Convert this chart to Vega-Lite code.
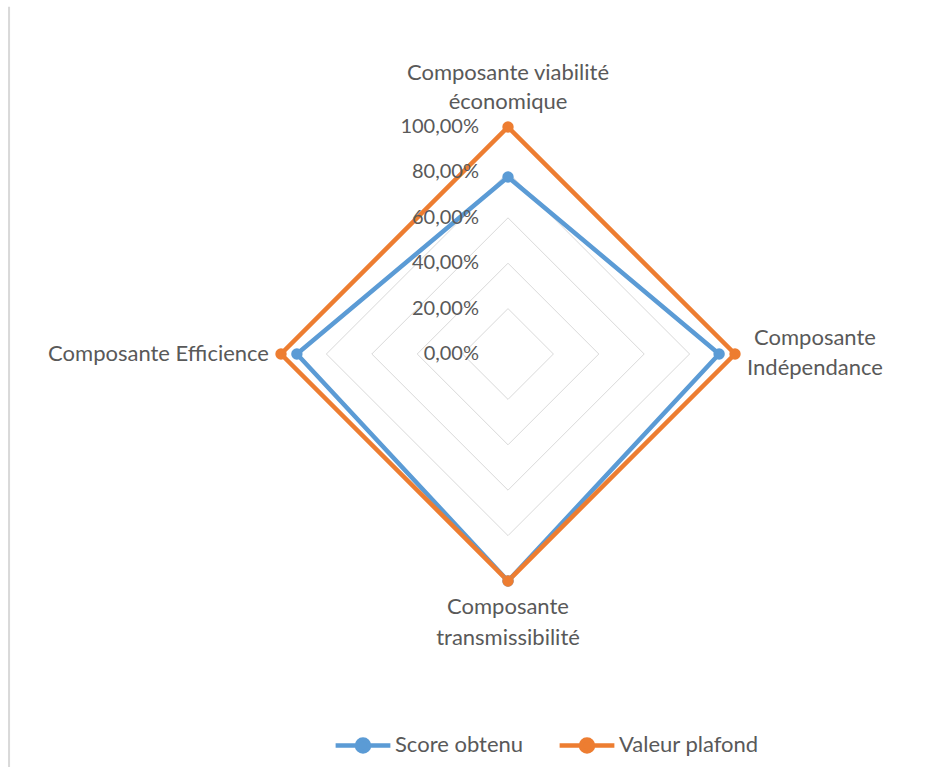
{
  "$schema": "https://vega.github.io/schema/vega-lite/v6.json",
  "width": 454,
  "height": 454,
  "autosize": {"type": "none"},
  "padding": {"left": 281, "top": 127, "right": 192, "bottom": 186},
  "background": "white",
  "datasets": {
    "series": [
      {"component": "Composante viabilité économique", "order": 0, "series": "Score obtenu", "value": 0.78},
      {"component": "Composante Indépendance", "order": 1, "series": "Score obtenu", "value": 0.93},
      {"component": "Composante transmissibilité", "order": 2, "series": "Score obtenu", "value": 1.0},
      {"component": "Composante Efficience", "order": 3, "series": "Score obtenu", "value": 0.93},
      {"component": "Composante viabilité économique", "order": 0, "series": "Valeur plafond", "value": 1.0},
      {"component": "Composante Indépendance", "order": 1, "series": "Valeur plafond", "value": 1.0},
      {"component": "Composante transmissibilité", "order": 2, "series": "Valeur plafond", "value": 1.0},
      {"component": "Composante Efficience", "order": 3, "series": "Valeur plafond", "value": 1.0}
    ],
    "grid": [
      {"level": 0.2, "order": 0}, {"level": 0.2, "order": 1}, {"level": 0.2, "order": 2}, {"level": 0.2, "order": 3},
      {"level": 0.4, "order": 0}, {"level": 0.4, "order": 1}, {"level": 0.4, "order": 2}, {"level": 0.4, "order": 3},
      {"level": 0.6, "order": 0}, {"level": 0.6, "order": 1}, {"level": 0.6, "order": 2}, {"level": 0.6, "order": 3},
      {"level": 0.8, "order": 0}, {"level": 0.8, "order": 1}, {"level": 0.8, "order": 2}, {"level": 0.8, "order": 3},
      {"level": 1.0, "order": 0}, {"level": 1.0, "order": 1}, {"level": 1.0, "order": 2}, {"level": 1.0, "order": 3}
    ],
    "ticks": [
      {"level": 0.0, "label": "0,00%"},
      {"level": 0.2, "label": "20,00%"},
      {"level": 0.4, "label": "40,00%"},
      {"level": 0.6, "label": "60,00%"},
      {"level": 0.8, "label": "80,00%"},
      {"level": 1.0, "label": "100,00%"}
    ],
    "components": [
      {"order": 0, "label": "Composante viabilité\néconomique", "value": 1},
      {"order": 1, "label": "Composante\nIndépendance", "value": 1},
      {"order": 2, "label": "Composante\ntransmissibilité", "value": 1},
      {"order": 3, "label": "Composante Efficience", "value": 1}
    ]
  },
  "layer": [
    {
      "data": {"values": [{"edge": "left"}]},
      "mark": {"type": "rule", "color": "#d9d9d9", "strokeWidth": 2},
      "encoding": {
        "x": {"datum": -2.198, "type": "quantitative", "scale": {"domain": [-1, 1], "nice": false, "zero": false}, "axis": null},
        "y": {"datum": 1.53, "type": "quantitative", "scale": {"domain": [-1, 1], "nice": false, "zero": false}, "axis": null},
        "y2": {"datum": -1.85}
      }
    },
    {
      "data": {"name": "grid"},
      "transform": [
        {"calculate": "datum.level * sin(datum.order * PI / 2)", "as": "x"},
        {"calculate": "datum.level * cos(datum.order * PI / 2)", "as": "y"}
      ],
      "mark": {"type": "line", "interpolate": "linear-closed", "color": "#d9d9d9", "strokeWidth": 1},
      "encoding": {
        "x": {"field": "x", "type": "quantitative", "scale": {"domain": [-1, 1], "nice": false, "zero": false}, "axis": null},
        "y": {"field": "y", "type": "quantitative", "scale": {"domain": [-1, 1], "nice": false, "zero": false}, "axis": null},
        "detail": {"field": "level", "type": "nominal"},
        "order": {"field": "order", "type": "quantitative"}
      }
    },
    {
      "data": {"name": "series"},
      "transform": [
        {"calculate": "datum.value * sin(datum.order * PI / 2)", "as": "x"},
        {"calculate": "datum.value * cos(datum.order * PI / 2)", "as": "y"}
      ],
      "mark": {"type": "line", "interpolate": "linear-closed", "strokeWidth": 4.5},
      "encoding": {
        "x": {"field": "x", "type": "quantitative", "scale": {"domain": [-1, 1], "nice": false, "zero": false}, "axis": null},
        "y": {"field": "y", "type": "quantitative", "scale": {"domain": [-1, 1], "nice": false, "zero": false}, "axis": null},
        "color": {
          "field": "series", "type": "nominal",
          "scale": {"domain": ["Score obtenu", "Valeur plafond"], "range": ["#5B9BD5", "#ED7D31"]},
          "legend": {
            "orient": "none", "legendX": 52, "legendY": 588, "direction": "horizontal", "title": null,
            "symbolType": "M-1,0L-0.22,0M0.22,0A0.22,0.22,0,1,1,-0.22,0A0.22,0.22,0,1,1,0.22,0M0.22,0L1,0",
            "symbolSize": 3000, "symbolStrokeWidth": 4.5,
            "labelFontSize": 22, "labelColor": "#595959", "labelFont": "Lato", "labelOffset": 2, "columnPadding": 26,
            "encode": {"symbols": {"update": {"fill": {"scale": "color", "field": "value"}, "stroke": {"scale": "color", "field": "value"}, "opacity": {"value": 1}}}}
          }
        },
        "order": {"field": "order", "type": "quantitative"}
      }
    },
    {
      "data": {"name": "series"},
      "transform": [
        {"calculate": "datum.value * sin(datum.order * PI / 2)", "as": "x"},
        {"calculate": "datum.value * cos(datum.order * PI / 2)", "as": "y"}
      ],
      "mark": {"type": "point", "filled": true, "opacity": 1, "size": 130},
      "encoding": {
        "x": {"field": "x", "type": "quantitative", "scale": {"domain": [-1, 1], "nice": false, "zero": false}, "axis": null},
        "y": {"field": "y", "type": "quantitative", "scale": {"domain": [-1, 1], "nice": false, "zero": false}, "axis": null},
        "color": {"field": "series", "type": "nominal", "scale": {"domain": ["Score obtenu", "Valeur plafond"], "range": ["#5B9BD5", "#ED7D31"]}}
      }
    },
    {
      "data": {"name": "ticks"},
      "mark": {"type": "text", "align": "right", "baseline": "middle", "dx": -29, "fontSize": 20, "font": "Lato", "color": "#595959"},
      "encoding": {
        "x": {"datum": 0, "type": "quantitative", "scale": {"domain": [-1, 1], "nice": false, "zero": false}, "axis": null},
        "y": {"field": "level", "type": "quantitative", "scale": {"domain": [-1, 1], "nice": false, "zero": false}, "axis": null},
        "text": {"field": "label", "type": "nominal"}
      }
    },
    {
      "data": {"name": "components"},
      "transform": [
        {"filter": "datum.order == 0"},
        {"calculate": "datum.value * sin(datum.order * PI / 2)", "as": "x"},
        {"calculate": "datum.value * cos(datum.order * PI / 2)", "as": "y"}
      ],
      "mark": {"type": "text", "align": "center", "baseline": "middle", "dy": -54, "lineBreak": "\n", "lineHeight": 29, "fontSize": 22, "font": "Lato", "color": "#595959"},
      "encoding": {
        "x": {"field": "x", "type": "quantitative", "scale": {"domain": [-1, 1], "nice": false, "zero": false}, "axis": null},
        "y": {"field": "y", "type": "quantitative", "scale": {"domain": [-1, 1], "nice": false, "zero": false}, "axis": null},
        "text": {"field": "label", "type": "nominal"}
      }
    },
    {
      "data": {"name": "components"},
      "transform": [
        {"filter": "datum.order == 1"},
        {"calculate": "datum.value * sin(datum.order * PI / 2)", "as": "x"},
        {"calculate": "datum.value * cos(datum.order * PI / 2)", "as": "y"}
      ],
      "mark": {"type": "text", "align": "center", "baseline": "middle", "dx": 80, "dy": -16, "lineBreak": "\n", "lineHeight": 30, "fontSize": 22, "font": "Lato", "color": "#595959"},
      "encoding": {
        "x": {"field": "x", "type": "quantitative", "scale": {"domain": [-1, 1], "nice": false, "zero": false}, "axis": null},
        "y": {"field": "y", "type": "quantitative", "scale": {"domain": [-1, 1], "nice": false, "zero": false}, "axis": null},
        "text": {"field": "label", "type": "nominal"}
      }
    },
    {
      "data": {"name": "components"},
      "transform": [
        {"filter": "datum.order == 2"},
        {"calculate": "datum.value * sin(datum.order * PI / 2)", "as": "x"},
        {"calculate": "datum.value * cos(datum.order * PI / 2)", "as": "y"}
      ],
      "mark": {"type": "text", "align": "center", "baseline": "middle", "dy": 26, "lineBreak": "\n", "lineHeight": 31, "fontSize": 22, "font": "Lato", "color": "#595959"},
      "encoding": {
        "x": {"field": "x", "type": "quantitative", "scale": {"domain": [-1, 1], "nice": false, "zero": false}, "axis": null},
        "y": {"field": "y", "type": "quantitative", "scale": {"domain": [-1, 1], "nice": false, "zero": false}, "axis": null},
        "text": {"field": "label", "type": "nominal"}
      }
    },
    {
      "data": {"name": "components"},
      "transform": [
        {"filter": "datum.order == 3"},
        {"calculate": "datum.value * sin(datum.order * PI / 2)", "as": "x"},
        {"calculate": "datum.value * cos(datum.order * PI / 2)", "as": "y"}
      ],
      "mark": {"type": "text", "align": "right", "baseline": "middle", "dx": -12, "fontSize": 22, "font": "Lato", "color": "#595959"},
      "encoding": {
        "x": {"field": "x", "type": "quantitative", "scale": {"domain": [-1, 1], "nice": false, "zero": false}, "axis": null},
        "y": {"field": "y", "type": "quantitative", "scale": {"domain": [-1, 1], "nice": false, "zero": false}, "axis": null},
        "text": {"field": "label", "type": "nominal"}
      }
    }
  ],
  "config": {"view": {"stroke": null}, "font": "Lato"}
}
